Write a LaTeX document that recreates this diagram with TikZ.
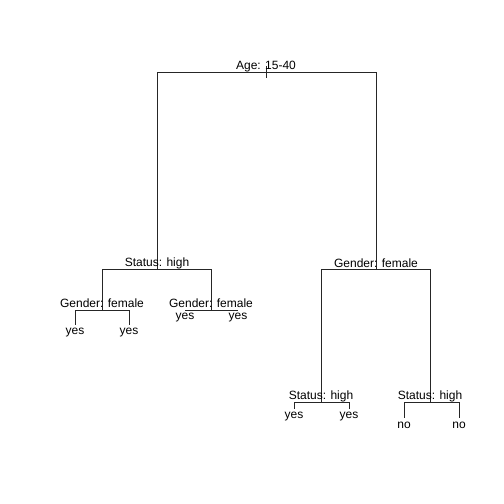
\documentclass[tikz,border=0pt]{standalone}
\usepackage{fontspec}
\setmainfont{Liberation Sans}
\begin{document}
\begin{tikzpicture}[x=1pt,y=-1pt,
  edge/.style={draw=black!85,line width=1pt},
  lab/.style={anchor=base,inner sep=0pt,font=\fontsize{12}{14}\selectfont}]
\useasboundingbox[fill=white] (0,0) rectangle (504,504);
% joints
\coordinate (rt) at (266,66);
\coordinate (r) at (266,72);
\coordinate (rb) at (266,78);
\coordinate (a) at (157,269);
\coordinate (b) at (376,269);
\coordinate (aa) at (102,310);
\coordinate (ab) at (211,310);
\coordinate (ba) at (321,402);
\coordinate (bb) at (430,402);
\coordinate (aa1) at (75,325);
\coordinate (aa2) at (129,325);
\coordinate (ab1) at (185,310);
\coordinate (ab2) at (238,310);
\coordinate (ba1) at (294,409);
\coordinate (ba2) at (349,409);
\coordinate (bb1) at (404,418);
\coordinate (bb2) at (459,418);
% edges
\draw[edge] (rt) -- (rb);
\draw[edge] (r) -| (a);
\draw[edge] (r) -| (b);
\draw[edge] (a) -| (aa);
\draw[edge] (a) -| (ab);
\draw[edge] (b) -| (ba);
\draw[edge] (b) -| (bb);
\draw[edge] (aa) -| (aa1);
\draw[edge] (aa) -| (aa2);
\draw[edge] (ab) -| (ab1);
\draw[edge] (ab) -| (ab2);
\draw[edge] (ba) -| (ba1);
\draw[edge] (ba) -| (ba2);
\draw[edge] (bb) -| (bb1);
\draw[edge] (bb) -| (bb2);
% labels
\node[lab] (lr) at (266,69.5) {Age: 15-40};
\node[lab] (la) at (157,266) {Status: high};
\node[lab] (lb) at (376,267) {Gender: female};
\node[lab] (laa) at (102,307) {Gender: female};
\node[lab] (lab) at (211,307) {Gender: female};
\node[lab] (lba) at (321,399) {Status: high};
\node[lab] (lbb) at (430,399) {Status: high};
\node[lab] (yaa1) at (75,334) {yes};
\node[lab] (yaa2) at (129,334) {yes};
\node[lab] (yab1) at (185,319) {yes};
\node[lab] (yab2) at (238,319) {yes};
\node[lab] (yba1) at (294,418) {yes};
\node[lab] (yba2) at (349,418) {yes};
\node[lab] (ybb1) at (404,428) {no};
\node[lab] (ybb2) at (459,428) {no};
\end{tikzpicture}
\end{document}
